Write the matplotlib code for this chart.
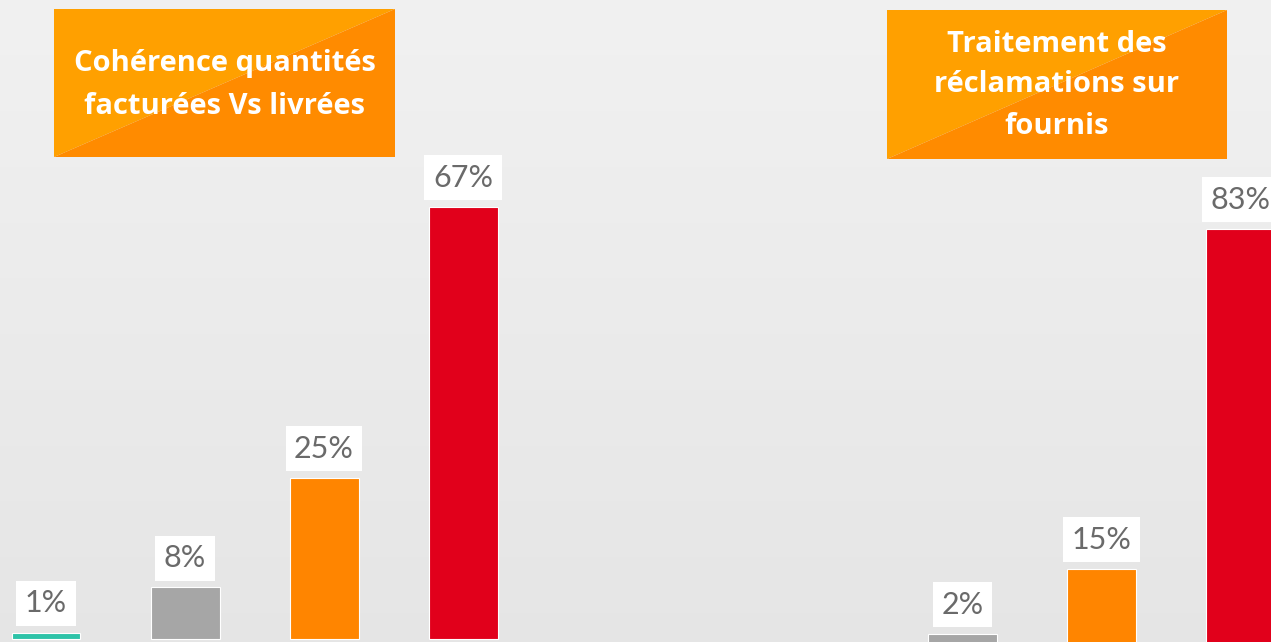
import numpy as np
import matplotlib
matplotlib.use("Agg")
import matplotlib.pyplot as plt
from matplotlib.patches import Polygon

# ---- data ----
groups = ["Cohérence quantités\nfacturées Vs livrées", "Traitement des\nréclamations sur\nfournis"]
series_colors = ["#2DC3A8", "#A6A6A6", "#FF8500", "#E1001B"]
left_values = [1, 8, 25, 67]
right_values = [0, 2, 15, 83]
left_labels = ["1%", "8%", "25%", "67%"]
right_labels = ["", "2%", "15%", "83%"]

W, H = 1271, 642
fig = plt.figure(figsize=(W / 100, H / 100), dpi=100)

# background gradient
bg = fig.add_axes([0, 0, 1, 1])
bg.set_axis_off()
grad = np.linspace(0, 1, 256)[:, None]
c_top = np.array([0.945, 0.945, 0.945])
c_bot = np.array([0.900, 0.900, 0.900])
img = c_top[None, None, :] * (1 - grad[:, :, None]) + c_bot[None, None, :] * grad[:, :, None]
img = np.repeat(img, 2, axis=1)
bg.imshow(img, aspect="auto", extent=[0, W, H, 0])
bg.set_xlim(0, W)
bg.set_ylim(H, 0)

# title boxes (pixel coordinates)
def title_box(x0, y0, x1, y1, text, ys):
    bg.add_patch(Polygon([(x0, y0), (x1, y0), (x0, y1)], closed=True, color="#FFA000", lw=0, zorder=2))
    bg.add_patch(Polygon([(x1, y0), (x1, y1), (x0, y1)], closed=True, color="#FF8B00", lw=0, zorder=2))
    for line, y in zip(text.split("\n"), ys):
        bg.text((x0 + x1) / 2, y, line, ha="center", va="center", color="white",
                fontsize=21, fontweight="bold", family=["Open Sans", "DejaVu Sans"], zorder=3)

title_box(54, 9, 395, 157, groups[0], [64, 106])
title_box(887, 10, 1227, 159, groups[1], [44, 85, 127])

# bar axes
spacing = 777.5
offset = 139 / spacing
width = 69 / spacing
xl = (-254.5 / spacing, (W - 254.5) / spacing)

def draw(ax, gi, values, labels, ylim):
    ax.set_xlim(*xl)
    ax.set_ylim(*ylim)
    ax.set_axis_off()
    ax.patch.set_alpha(0)
    for si, (v, lab) in enumerate(zip(values, labels)):
        if v <= 0:
            continue
        x = gi + (si - 1.5) * offset
        ax.bar(x, v, width=width, color=series_colors[si], edgecolor="white", linewidth=0.8)
        ax.annotate(lab, (x, v), xytext=(0, 21), textcoords="offset points",
                    ha="center", va="center", fontsize=22, color="#6A6A6A",
                    family=["Lato", "DejaVu Sans"], fontweight="normal",
                    bbox=dict(boxstyle="square,pad=0.28", fc="white", ec="none"))

axL = fig.add_axes([0, 0, 1, 1])
draw(axL, 0, left_values, left_labels, (-0.465, -0.465 + H / 6.45))
axR = fig.add_axes([0, 0, 1, 1])
draw(axR, 1, right_values, right_labels, (0.4, 0.4 + H / 5.0))

fig.savefig("out.png", dpi=100)
